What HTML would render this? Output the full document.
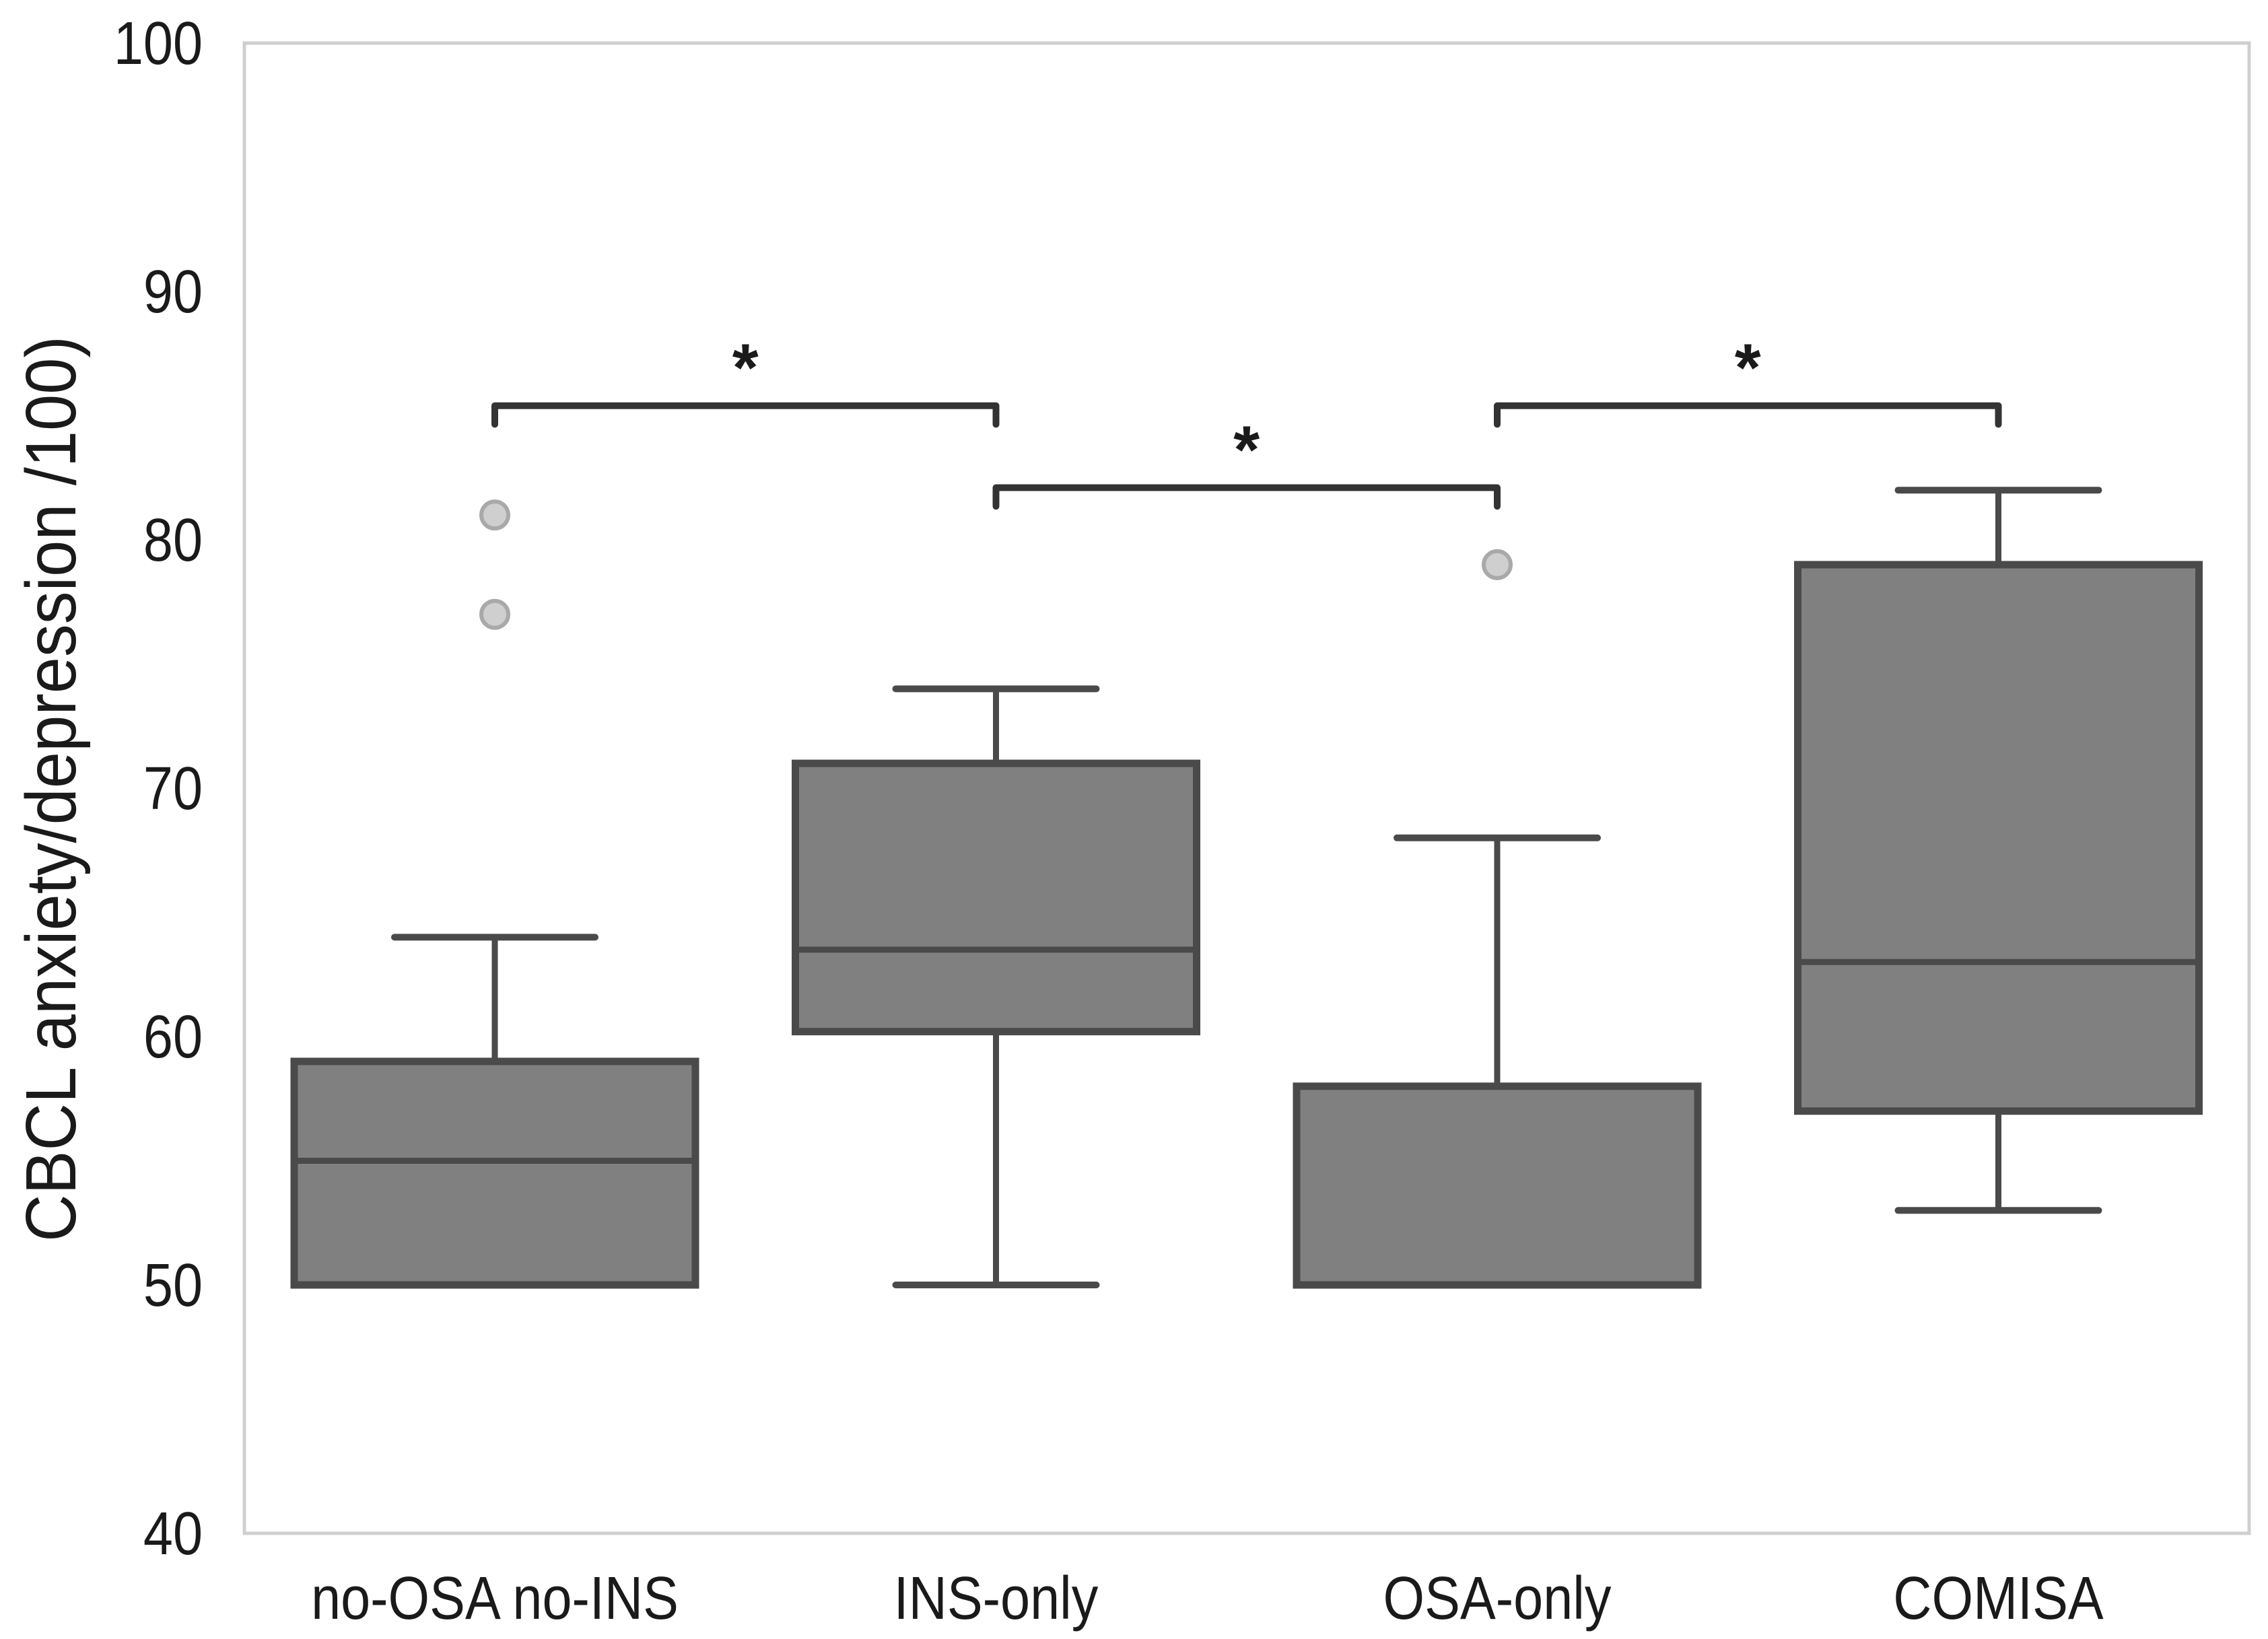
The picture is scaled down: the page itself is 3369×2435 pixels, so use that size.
<!DOCTYPE html>
<html><head><meta charset="utf-8"><style>
html,body{margin:0;padding:0;background:#fff}
svg{display:block}
text{font-family:"Liberation Sans",Arial,sans-serif;fill:#1a1a1a}
</style></head><body>
<svg id="chart" width="3369" height="2435" viewBox="0 0 3369 2435" xmlns="http://www.w3.org/2000/svg">
<rect x="363" y="64" width="2978" height="2214" fill="#fff" stroke="#cfcfcf" stroke-width="5"/>
<g id="yticks"></g><g id="xticks"></g><g id="boxes"></g><g id="brackets"></g>
<text transform="translate(112,1172) rotate(-90) scale(0.92,1)" text-anchor="middle" font-size="106">CBCL anxiety/depression /100)</text>
</svg>
<script>
const categories=["no-OSA no-INS","INS-only","OSA-only","COMISA"];
const whiskerLow=[50,50,50,53];
const q1=[50,60.2,50,57];
const medians=[55,63.5,50,63];
const q3=[59,71,58,79];
const whiskerHigh=[64,74,68,82];
const outliers=[[77,81],[],[79],[]];
const yTicks=[40,50,60,70,80,90,100];
const brackets=[[0,1,85.4],[1,2,82.1],[2,3,85.4]];
const NS="http://www.w3.org/2000/svg";
const y=v=>2278-(v-40)*36.9;
const x=i=>735+i*744.5;
function mk(tag,attrs,parent){const e=document.createElementNS(NS,tag);for(const k in attrs)e.setAttribute(k,attrs[k]);parent.appendChild(e);return e;}
const yt=document.getElementById('yticks');
yTicks.forEach(v=>{const t=mk('text',{transform:`translate(301,${y(v)+31}) scale(0.88,1)`,'text-anchor':'end','font-size':'90'},yt);t.textContent=v;

});
const xt=document.getElementById('xticks');
categories.forEach((c,i)=>{const t=mk('text',{transform:`translate(${x(i)},2405) scale(0.88,1)`,'text-anchor':'middle','font-size':'90'},xt);t.textContent=c;

});
const bx=document.getElementById('boxes');
const hw=298,cw=149,col="#4a4a4a";
categories.forEach((c,i)=>{const g=mk('g',{},bx);


const cx=x(i);
mk('line',{x1:cx,x2:cx,y1:y(whiskerLow[i]),y2:y(q1[i]),stroke:col,'stroke-width':9},g);
mk('line',{x1:cx,x2:cx,y1:y(q3[i]),y2:y(whiskerHigh[i]),stroke:col,'stroke-width':9},g);
mk('line',{x1:cx-cw,x2:cx+cw,y1:y(whiskerLow[i]),y2:y(whiskerLow[i]),stroke:col,'stroke-width':10,'stroke-linecap':'round'},g);
mk('line',{x1:cx-cw,x2:cx+cw,y1:y(whiskerHigh[i]),y2:y(whiskerHigh[i]),stroke:col,'stroke-width':10,'stroke-linecap':'round'},g);
mk('rect',{x:cx-hw,y:y(q3[i]),width:2*hw,height:y(q1[i])-y(q3[i]),fill:'#808080',stroke:col,'stroke-width':11},g);
mk('line',{x1:cx-hw,x2:cx+hw,y1:y(medians[i]),y2:y(medians[i]),stroke:col,'stroke-width':9},g);
outliers[i].forEach(v=>{const o=mk('circle',{cx:cx,cy:y(v),r:20,fill:'#cfcfcf',stroke:'#a9a9a9','stroke-width':6},g);

});
});
const br=document.getElementById('brackets');
brackets.forEach(b=>{const g=mk('g',{},br);


const x1=x(b[0]),x2=x(b[1]),yy=y(b[2]),yd=y(b[2]-0.75);
mk('path',{d:`M${x1},${yd}L${x1},${yy}L${x2},${yy}L${x2},${yd}`,fill:'none',stroke:'#333','stroke-width':10,'stroke-linecap':'round','stroke-linejoin':'round'},g);
const t=mk('text',{x:(x1+x2)/2,y:yy-22,'text-anchor':'middle','font-size':'100','font-weight':'bold',fill:'#000'},g);t.textContent='*';});
</script>
</body></html>
